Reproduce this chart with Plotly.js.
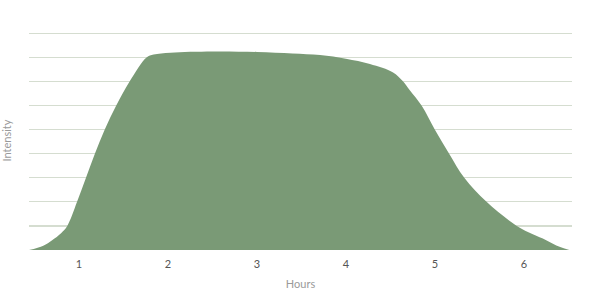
<!DOCTYPE html>
<html><head><meta charset="utf-8">
<script src="https://cdn.plot.ly/plotly-3.0.1.min.js"></script>
<style>html,body{margin:0;padding:0;background:#fff}#chart{width:600px;height:292px}</style>
</head><body><div id="chart"></div>
<script>
const hours = [0.44, 0.6, 0.7, 0.8, 0.87, 0.98, 1.08, 1.18, 1.29, 1.42, 1.57, 1.76, 1.84, 2.03, 2.5, 3.0, 3.4, 3.71, 4.0, 4.27, 4.53, 4.63, 4.72, 4.85, 5.0, 5.16, 5.33, 5.58, 5.92, 6.1, 6.25, 6.4, 6.51];
const intensity = [0, 0.18, 0.41, 0.7, 1, 2, 3, 4, 5, 6, 7, 8, 8.12, 8.2, 8.25, 8.23, 8.17, 8.1, 7.95, 7.73, 7.38, 7.05, 6.63, 6.0, 5.0, 4, 3, 2, 1, 0.65, 0.41, 0.13, 0];
const xTicks = [1, 2, 3, 4, 5, 6];

Plotly.newPlot('chart', [{
  x: hours, y: intensity, type: 'scatter', mode: 'lines',
  line: {shape: 'spline', smoothing: 1, width: 0, color: '#7a9a76'},
  fill: 'tozeroy', fillcolor: '#7a9a76', hoverinfo: 'skip'
}], {
  width: 600, height: 292,
  margin: {l: 29, r: 28, t: 31, b: 42},
  paper_bgcolor: '#fff', plot_bgcolor: '#fff',
  showlegend: false,
  font: {family: 'Lato, sans-serif', color: '#555'},
  xaxis: {range: [0.44, 6.54], tickvals: xTicks, showgrid: false, zeroline: false, showline: false,
    ticks: '', tickfont: {size: 11, color: '#555'}, ticklabelstandoff: 6,
    title: {text: 'Hours', font: {size: 11, color: '#9a9a9a'}, standoff: 11}},
  yaxis: {range: [0, 9.1], tickvals: [1,2,3,4,5,6,7,8,9], showticklabels: false, showgrid: true, gridcolor: '#d5ddd0', gridwidth: 1.2,
    zeroline: false, showline: false, ticks: '',
    title: {text: 'Intensity', font: {size: 11, color: '#9a9a9a'}, standoff: 14}}
}, {displayModeBar: false, staticPlot: true});
</script></body></html>
